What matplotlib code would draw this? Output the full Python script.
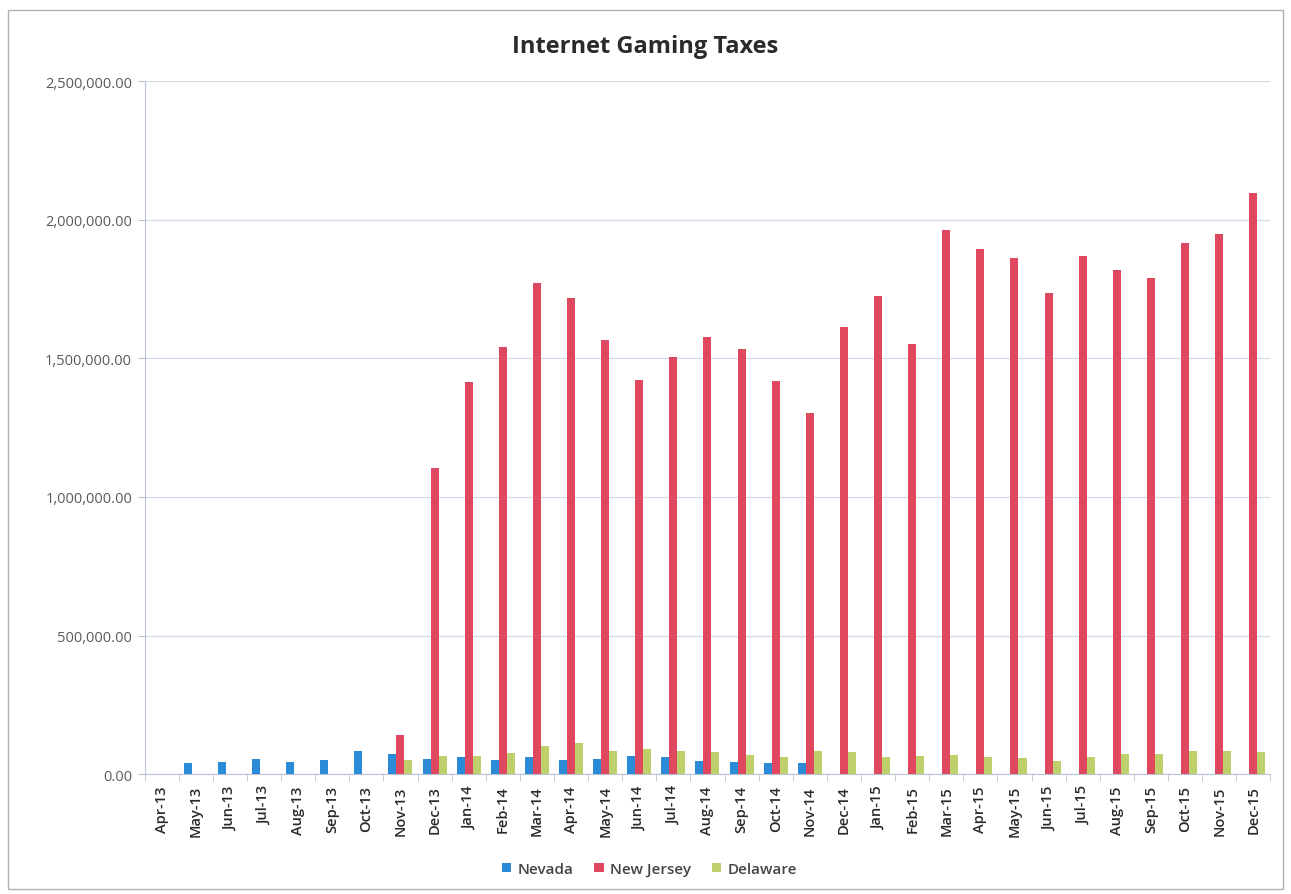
import matplotlib
matplotlib.use("Agg")
import matplotlib.pyplot as plt
from matplotlib.patches import Rectangle
from matplotlib.ticker import FuncFormatter, FixedLocator
import numpy as np

plt.rcParams['font.family'] = ['Open Sans', 'DejaVu Sans']

months = ["Apr-13", "May-13", "Jun-13", "Jul-13", "Aug-13", "Sep-13", "Oct-13", "Nov-13", "Dec-13",
          "Jan-14", "Feb-14", "Mar-14", "Apr-14", "May-14", "Jun-14", "Jul-14", "Aug-14", "Sep-14",
          "Oct-14", "Nov-14", "Dec-14",
          "Jan-15", "Feb-15", "Mar-15", "Apr-15", "May-15", "Jun-15", "Jul-15", "Aug-15", "Sep-15",
          "Oct-15", "Nov-15", "Dec-15"]

nevada = [0, 39000, 42000, 55000, 44000, 49000, 83000, 72000, 53000,
          62000, 49000, 60000, 51000, 55000, 66000, 60000, 48000, 42000,
          41000, 39000, 0,
          0, 0, 0, 0, 0, 0, 0, 0, 0, 0, 0, 0]

new_jersey = [0, 0, 0, 0, 0, 0, 0, 141000, 1104000,
              1414000, 1540000, 1771000, 1717000, 1566000, 1421000, 1504000, 1576000, 1533000,
              1418000, 1302000, 1613000,
              1724000, 1551000, 1962000, 1894000, 1861000, 1735000, 1869000, 1818000, 1789000,
              1916000, 1948000, 2096000]

delaware = [0, 0, 0, 0, 0, 0, 0, 50000, 65000,
            65000, 76000, 100000, 113000, 84000, 90000, 82000, 80000, 68000,
            60000, 82000, 79000,
            60000, 64000, 68000, 60000, 58000, 48000, 62000, 72000, 72000,
            84000, 84000, 78000]

series_names = ["Nevada", "New Jersey", "Delaware"]
colors = ["#2c8bd6", "#e04860", "#bdd06c"]

fig = plt.figure(figsize=(12.91, 8.95), dpi=100)
ax = fig.add_axes([0.112, 0.134, 0.872, 0.774])

x = np.arange(len(months))
w = 0.235
for i, (vals, name, c) in enumerate(zip([nevada, new_jersey, delaware], series_names, colors)):
    ax.bar(x + (i - 1) * w, vals, width=w, color=c, label=name, zorder=3)

ax.set_xlim(-0.5, len(months) - 0.5)
ax.set_ylim(0, 2500000)
ax.yaxis.set_major_locator(FixedLocator(np.arange(0, 2500001, 500000)))
ax.yaxis.set_major_formatter(FuncFormatter(lambda v, p: f"{v:,.2f}"))
ax.grid(axis='y', color='#d3dbe8', linewidth=0.9, zorder=0)

ax.set_xticks(x)
ax.set_xticklabels(months, rotation=90, fontsize=10.5, color='#2a2a2a', fontweight='semibold')
ax.tick_params(axis='x', length=0, pad=8)
ax.set_xticks(np.arange(-0.5, len(months), 1), minor=True)
ax.tick_params(axis='x', which='minor', length=5, color='#b9c4d6')
ax.tick_params(axis='y', length=5, color='#b9c4d6', labelsize=10.5, labelcolor='#5a5a5a', pad=4)

for side in ['top', 'right']:
    ax.spines[side].set_visible(False)
ax.spines['left'].set_color('#b9c4d6')
ax.spines['bottom'].set_color('#b9c4d6')

fig.text(0.5, 0.948, "Internet Gaming Taxes", ha='center', va='center',
         fontsize=17, fontweight='bold', color='#2b2b2b')

leg = fig.legend(loc='center', bbox_to_anchor=(0.503, 0.028), ncol=3, frameon=False,
                 fontsize=11, handlelength=0.6, handleheight=0.6, handletextpad=0.4,
                 columnspacing=1.4, labelcolor='#444444')
for t in leg.get_texts():
    t.set_fontweight('semibold')

fig.patches.append(Rectangle((0.006, 0.006), 0.988, 0.982, transform=fig.transFigure,
                             fill=False, edgecolor='#b0b0b0', linewidth=1.0))

fig.savefig("out.png", dpi=100, facecolor='white')
